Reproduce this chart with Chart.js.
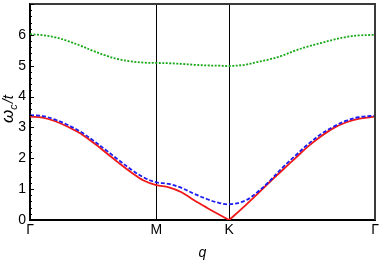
<!DOCTYPE html>
<html lang="en">
<head>
<meta charset="UTF-8">
<title>Collective mode dispersion along Γ-M-K-Γ</title>
<script src="https://cdn.jsdelivr.net/npm/chart.js"></script>
<style>
  html, body { margin: 0; padding: 0; background: #fff; }
</style>
</head>
<body>
<canvas id="dispChart" width="381" height="263"></canvas>
<script>
// position along the path Γ-M-K-Γ (|ΓM| = 1)
const qPath = [0, 0.1, 0.2, 0.3, 0.4, 0.5, 0.6, 0.7, 0.8, 0.9, 1.0,
               1.1, 1.2, 1.3, 1.4, 1.5, 1.5774,
               1.7, 1.8, 1.9, 2.0, 2.1, 2.2, 2.3, 2.4, 2.5, 2.6, 2.7321];
const kIndex = 16;

// values (ω_c / t)
const redBand = [3.35, 3.32, 3.20, 3.02, 2.80, 2.51, 2.19, 1.86, 1.55, 1.28, 1.13,
                 1.06, 0.90, 0.64, 0.40, 0.17, 0.00,
                 0.45, 0.84, 1.24, 1.62, 2.00, 2.38, 2.70, 2.97, 3.16, 3.28, 3.35];
const blueBand = [3.40, 3.37, 3.25, 3.08, 2.86, 2.58, 2.27, 1.95, 1.64, 1.38, 1.22,
                  1.17, 1.04, 0.85, 0.68, 0.55, 0.51,
                  0.62, 0.90, 1.27, 1.70, 2.08, 2.45, 2.77, 3.02, 3.21, 3.33, 3.38];
const greenBand = [6.02, 5.99, 5.92, 5.80, 5.65, 5.48, 5.33, 5.21, 5.14, 5.10, 5.09,
                   5.08, 5.06, 5.03, 5.01, 5.00, 4.99,
                   5.03, 5.12, 5.21, 5.33, 5.49, 5.62, 5.73, 5.84, 5.93, 5.98, 6.00];

const xTickPos = [0, 1, 1.5774, 2.7321];
const xTickLabels = ['Γ', 'M', 'K', 'Γ'];
const yMax = 7;

const FONT = "'Liberation Sans', Arial, sans-serif";

function pts(vals, from, to) {
    const out = [];
    for (let i = from; i <= to; i++) out.push({ x: qPath[i], y: vals[i] });
    return out;
}

// frame on top/right, inward ticks on the y axis, and the y title with subscript
const decorations = {
    id: 'decorations',
    afterDraw(chart) {
        const ctx = chart.ctx;
        const a = chart.chartArea;
        const ys = chart.scales.y;
        ctx.save();
        ctx.strokeStyle = '#3a3a3a';
        ctx.lineWidth = 2;
        ctx.beginPath();
        ctx.moveTo(a.left, a.top);
        ctx.lineTo(a.right, a.top);
        ctx.lineTo(a.right, a.bottom);
        ctx.stroke();

        ctx.strokeStyle = '#000';
        ctx.lineWidth = 1;
        for (let i = 0; i <= yMax * 5; i++) {
            const py = Math.round(ys.getPixelForValue(i / 5)) + 0.5;
            const len = i % 5 === 0 ? 4 : 2;
            ctx.beginPath();
            ctx.moveTo(a.left, py);
            ctx.lineTo(a.left + len, py);
            ctx.stroke();
        }

        // ω_c / t
        ctx.translate(12.7, 109);
        ctx.rotate(-Math.PI / 2);
        ctx.fillStyle = '#000';
        ctx.textBaseline = 'alphabetic';
        const big = 'italic 17px ' + FONT;
        const mid = 'italic 15px ' + FONT;
        const small = 'italic 11px ' + FONT;
        ctx.font = big;
        const w1 = ctx.measureText('ω').width;
        ctx.font = mid;
        const w3 = ctx.measureText('/t').width;
        ctx.font = small;
        const w2 = ctx.measureText('c').width;
        let x = -(w1 + w2 + w3 + 1) / 2;
        ctx.font = big;
        ctx.fillText('ω', x, 0);
        x += w1;
        ctx.font = small;
        ctx.fillText('c', x, 4);
        x += w2 + 1;
        ctx.font = mid;
        ctx.fillText('/t', x, 0);
        ctx.restore();
    }
};

const ctx = document.getElementById('dispChart').getContext('2d');
new Chart(ctx, {
    type: 'line',
    data: {
        datasets: [
            {
                data: pts(blueBand, 0, qPath.length - 1),
                borderColor: '#1c1cf0',
                borderWidth: 1.8,
                borderDash: [4, 2],
                order: 0
            },
            {
                data: pts(redBand, 0, kIndex),
                borderColor: '#f01818',
                borderWidth: 1.8,
                order: 1
            },
            {
                data: pts(redBand, kIndex, qPath.length - 1),
                borderColor: '#f01818',
                borderWidth: 1.8,
                order: 1
            },
            {
                data: pts(greenBand, 0, qPath.length - 1),
                borderColor: '#18a818',
                borderWidth: 1.8,
                borderDash: [2, 1.5],
                order: 2
            }
        ]
    },
    options: {
        responsive: false,
        animation: false,
        devicePixelRatio: 1,
        layout: { padding: { top: 4, right: 6, left: 0, bottom: 0 } },
        elements: {
            point: { radius: 0 },
            line: { tension: 0.35, fill: false }
        },
        plugins: {
            legend: { display: false },
            tooltip: { enabled: false }
        },
        scales: {
            x: {
                type: 'linear',
                min: 0,
                max: xTickPos[xTickPos.length - 1],
                afterBuildTicks: s => { s.ticks = xTickPos.map(v => ({ value: v })); },
                afterFit: s => { s.height = 43; s.paddingLeft = 0; s.paddingRight = 0; },
                ticks: {
                    autoSkip: false,
                    maxRotation: 0,
                    padding: 2,
                    color: '#000',
                    font: { family: FONT, size: 14 },
                    callback: (v, i) => xTickLabels[i]
                },
                grid: {
                    drawTicks: false,
                    lineWidth: 1,
                    color: c => (c.index === 1 || c.index === 2) ? '#000' : 'rgba(0,0,0,0)'
                },
                border: { color: '#000', width: 2 },
                title: {
                    display: true,
                    text: 'q',
                    color: '#000',
                    padding: { top: 0, bottom: 1 },
                    font: { family: FONT, size: 14, style: 'italic' }
                }
            },
            y: {
                min: 0,
                max: yMax,
                afterFit: s => { s.width = 30; s.paddingTop = 0; s.paddingBottom = 0; },
                ticks: {
                    stepSize: 1,
                    padding: 4,
                    color: '#000',
                    font: { family: FONT, size: 14 },
                    callback: v => (v === yMax ? '' : v)
                },
                grid: { display: false, drawTicks: false },
                border: { color: '#000', width: 2 }
            }
        }
    },
    plugins: [decorations]
});
</script>
</body>
</html>
